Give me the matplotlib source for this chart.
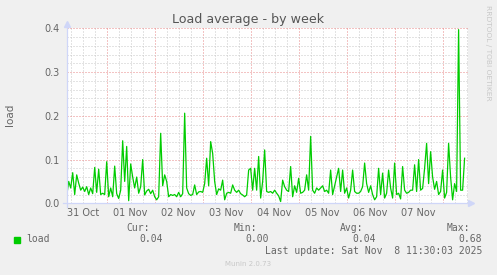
"""
Munin "Load average - by week" graph, redrawn with matplotlib.
Hourly samples read off the rrdtool picture, 31 Oct 04:00 .. 08 Nov 11:00.
"""

import numpy as np
import matplotlib

matplotlib.use("Agg")
import matplotlib.pyplot as plt
from matplotlib.patches import Rectangle
from matplotlib.ticker import MultipleLocator, FixedLocator

W, H = 497, 275

# ---- munin / rrdtool colours ----------------------------------------------
BACK = "#f0f0f0"
CANVAS = "#ffffff"
FONT = "#666666"
AXIS = "#cfd6f8"
GRID = "#c8c8c8"
MGRID = "#e88888"
GREEN = "#00cc00"
WATERMARK = "#c8c8c8"

# ---- data (hours since 31 Oct 00:00, one sample per hour) -----------------
START_HOUR = 4
load_oct31 = [0.017, 0.05, 0.035, 0.07, 0.02, 0.065, 0.046, 0.03, 0.037, 0.027,
              0.038, 0.02, 0.035, 0.022, 0.082, 0.025, 0.078, 0.02, 0.023, 0.02]
load_nov01 = [0.095, 0.015, 0.035, 0.015, 0.085, 0.022, 0.011, 0.03, 0.143, 0.05,
              0.13, 0.006, 0.09, 0.06, 0.035, 0.06, 0.023, 0.038, 0.1, 0.019,
              0.028, 0.032, 0.022, 0.03]
load_nov02 = [0.015, 0.008, 0.015, 0.16, 0.04, 0.065, 0.05, 0.015, 0.02, 0.018,
              0.02, 0.015, 0.025, 0.015, 0.022, 0.206, 0.035, 0.022, 0.018, 0.02,
              0.042, 0.02, 0.026, 0.027]
load_nov03 = [0.025, 0.045, 0.103, 0.04, 0.141, 0.114, 0.05, 0.02, 0.033, 0.03,
              0.053, 0.008, 0.023, 0.025, 0.023, 0.042, 0.03, 0.025, 0.03, 0.022,
              0.019, 0.015, 0.019, 0.076]
load_nov04 = [0.08, 0.03, 0.08, 0.03, 0.107, 0.012, 0.05, 0.122, 0.027, 0.025,
              0.027, 0.023, 0.03, 0.023, 0.017, 0.004, 0.053, 0.038, 0.03, 0.027,
              0.084, 0.015, 0.04, 0.025]
load_nov05 = [0.057, 0.023, 0.025, 0.03, 0.065, 0.03, 0.153, 0.03, 0.023, 0.035,
              0.03, 0.035, 0.04, 0.027, 0.03, 0.023, 0.076, 0.02, 0.04, 0.06,
              0.08, 0.027, 0.076, 0.023]
load_nov06 = [0.035, 0.012, 0.03, 0.076, 0.027, 0.023, 0.023, 0.027, 0.038, 0.092,
              0.045, 0.025, 0.04, 0.02, 0.008, 0.015, 0.08, 0.02, 0.069, 0.012,
              0.023, 0.076, 0.035, 0.012]
load_nov07 = [0.092, 0.02, 0.023, 0.01, 0.084, 0.03, 0.023, 0.025, 0.03, 0.03,
              0.088, 0.027, 0.1, 0.03, 0.034, 0.08, 0.137, 0.045, 0.118, 0.06,
              0.032, 0.05, 0.02, 0.027]
load_nov08 = [0.076, 0.012, 0.025, 0.137, 0.06, 0.008, 0.045, 0.027, 0.397, 0.03,
              0.03, 0.103]

day_labels = ["31 Oct", "01 Nov", "02 Nov", "03 Nov", "04 Nov", "05 Nov",
              "06 Nov", "07 Nov"]
y_ticks = [0.0, 0.1, 0.2, 0.3, 0.4]

legend_heads = ["Cur:", "Min:", "Avg:", "Max:"]
legend_values = ["0.04", "0.00", "0.04", "0.68"]
last_update = "Last update: Sat Nov  8 11:30:03 2025"


def fx(x):
    return x / W


def fy(y):
    return 1 - y / H


def main():
    load = np.array(load_oct31 + load_nov01 + load_nov02 + load_nov03 + load_nov04
                    + load_nov05 + load_nov06 + load_nov07 + load_nov08)
    hours = START_HOUR + np.arange(len(load))

    plt.rcParams["font.family"] = "DejaVu Sans"
    fig = plt.figure(figsize=(W / 100, H / 100), dpi=100, facecolor=BACK)
    ax = fig.add_axes([fx(66.7), fy(203.3), fx(468 - 66.7), (203.3 - 28.3) / H])
    ax.set_facecolor(CANVAS)

    ax.plot(hours, load, color=GREEN, linewidth=0.9, zorder=3)
    ax.set_xlim(4, 204.7)
    ax.set_ylim(0, 0.4)

    # grid: minor grey, major red, both dotted
    ax.xaxis.set_major_locator(MultipleLocator(24))
    ax.xaxis.set_minor_locator(MultipleLocator(6))
    ax.yaxis.set_major_locator(FixedLocator(y_ticks))
    ax.yaxis.set_minor_locator(MultipleLocator(0.02))
    dots = (0, (1, 2))
    ax.grid(which="minor", color=GRID, linewidth=0.72, linestyle=dots)
    ax.grid(which="major", color=MGRID, linewidth=0.72, linestyle=dots)
    ax.set_axisbelow(True)
    ax.tick_params(which="both", length=0)
    ax.set_xticklabels([])
    ax.set_yticklabels([f"{v:.1f}" for v in y_ticks], fontsize=7, color=FONT)
    ax.tick_params(axis="y", pad=4.8)

    # day names centred at noon
    for i, lab in enumerate(day_labels):
        ax.text(12 + 24 * i, -0.0215, lab, ha="center", va="center",
                fontsize=7, color=FONT)

    for s in ax.spines.values():
        s.set_visible(False)
    ax.plot([0, 0], [-0.02, 1.02], transform=ax.transAxes, color=AXIS,
            linewidth=0.9, clip_on=False, zorder=4)
    ax.plot([-0.01, 1.006], [0, 0], transform=ax.transAxes, color=AXIS,
            linewidth=0.9, clip_on=False, zorder=4)
    ax.plot([0], [1.025], marker="^", markersize=4, color=AXIS,
            transform=ax.transAxes, clip_on=False, zorder=4)
    ax.plot([1.0085], [0], marker=">", markersize=4, color=AXIS,
            transform=ax.transAxes, clip_on=False, zorder=4)

    fig.text(0.5, fy(20), "Load average - by week", ha="center", va="center",
             fontsize=9.1, color="#555555")
    fig.text(fx(10.5), fy(114.7), "load", rotation=90, ha="center", va="center",
             fontsize=7.5, color=FONT)
    fig.text(fx(488), fy(5), "RRDTOOL / TOBI OETIKER", rotation=270,
             ha="center", va="top", fontsize=5.4, color=WATERMARK)

    # legend block (rrdtool monospace)
    mono = dict(family="DejaVu Sans Mono", fontsize=7, color=FONT, va="center")
    fig.add_artist(Rectangle((fx(14), fy(242.5)), fx(6), 6 / H,
                             transform=fig.transFigure, color=GREEN))
    fig.text(fx(26.5), fy(239.3), "load", ha="left", **mono)
    head_right = [150, 256.7, 363.3, 470]
    value_right = [163, 269.3, 375.7, 482.3]
    for hx, head, vx, val in zip(head_right, legend_heads, value_right, legend_values):
        fig.text(fx(hx), fy(227.7), head, ha="right", **mono)
        fig.text(fx(vx), fy(239.3), val, ha="right", **mono)
    fig.text(fx(482.3), fy(251), last_update, ha="right", **mono)
    fig.text(0.5, fy(264.3), "Munin 2.0.73", ha="center", va="center",
             fontsize=5, color=WATERMARK)

    fig.savefig("out.png", dpi=100, facecolor=BACK)


if __name__ == "__main__":
    main()
